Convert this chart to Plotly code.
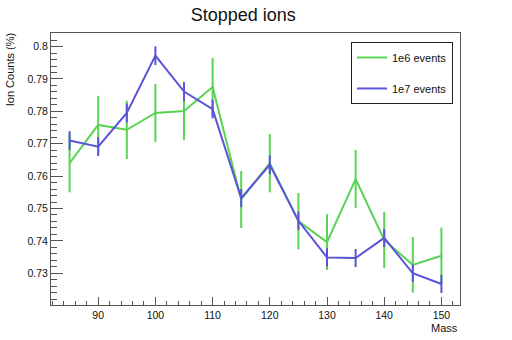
import plotly.graph_objects as go

FONT = "Liberation Sans, Arial, Helvetica, sans-serif"
GREEN = "#59D354"
BLUE = "#5954D8"
FRAME = "#555555"

mass = [85, 90, 95, 100, 105, 110, 115, 120, 125, 130, 135, 140, 145, 150]

counts_1e6 = [0.7640, 0.7758, 0.7743, 0.7795, 0.7801, 0.7875, 0.7528, 0.7640,
              0.7461, 0.7396, 0.7591, 0.7403, 0.7326, 0.7354]
err_1e6 = [0.0090, 0.0090, 0.0090, 0.0090, 0.0090, 0.0090, 0.0088, 0.0090,
           0.0087, 0.0086, 0.0090, 0.0087, 0.0086, 0.0087]

counts_1e7 = [0.7710, 0.7691, 0.7795, 0.7972, 0.7861, 0.7807, 0.7532, 0.7635,
              0.7462, 0.7349, 0.7347, 0.7409, 0.7300, 0.7267]
err_1e7 = [0.0029, 0.0029, 0.0029, 0.0029, 0.0029, 0.0029, 0.0028, 0.0029,
           0.0028, 0.0028, 0.0028, 0.0028, 0.0027, 0.0028]

x_tick_vals = [90, 100, 110, 120, 130, 140, 150]
x_tick_text = ["90", "100", "110", "120", "130", "140", "150"]
y_tick_vals = [0.73, 0.74, 0.75, 0.76, 0.77, 0.78, 0.79, 0.80]
y_tick_text = ["0.73", "0.74", "0.75", "0.76", "0.77", "0.78", "0.79", "0.8"]

fig = go.Figure()
fig.add_scatter(
    x=mass, y=counts_1e6, name="1e6 events", mode="lines",
    line=dict(color=GREEN, width=2),
    error_y=dict(type="data", array=err_1e6, color=GREEN, thickness=2, width=0),
    legendgroup="a",
)
fig.add_scatter(
    x=mass, y=counts_1e7, name="1e7 events", mode="lines",
    line=dict(color=BLUE, width=2),
    error_y=dict(type="data", array=err_1e7, color=BLUE, thickness=2, width=0),
    legendgroup="b",
)

axis_common = dict(
    showline=True, mirror=True, linecolor=FRAME, linewidth=1,
    showgrid=False, zeroline=False, ticks="inside", tickcolor=FRAME,
    tickmode="array", tickfont=dict(size=10.5, color="#111111", family=FONT),
)

fig.update_xaxes(
    **axis_common, range=[81.75, 153.25], tickvals=x_tick_vals, ticktext=x_tick_text,
    ticklen=8, tickwidth=1,
    minor=dict(ticks="inside", ticklen=4, tickcolor=FRAME, tickmode="linear", tick0=82, dtick=2),
)
fig.update_yaxes(
    **axis_common, range=[0.7202, 0.8042], tickvals=y_tick_vals, ticktext=y_tick_text,
    ticklen=12, tickwidth=1,
    minor=dict(ticks="inside", ticklen=6, tickcolor=FRAME, tickmode="linear", tick0=0.72, dtick=0.002),
)

fig.update_layout(
    width=512, height=340,
    margin=dict(l=51, r=52, t=33, b=35),
    paper_bgcolor="white", plot_bgcolor="white",
    font=dict(family=FONT, color="#111111", size=11),
    title=dict(text="Stopped ions", x=0.475, xanchor="center", y=0.975, yanchor="top",
               font=dict(size=18, family=FONT, color="#111111")),
    showlegend=True,
    legend=dict(
        x=0.7335, y=0.967, xanchor="left", yanchor="top",
        bordercolor="#222222", borderwidth=1, bgcolor="white",
        font=dict(size=11, family=FONT), tracegroupgap=12,
        traceorder="grouped", itemwidth=30,
    ),
    annotations=[
        dict(text="Mass", xref="paper", yref="paper", x=1, y=-0.055,
             xanchor="right", yanchor="top", showarrow=False, font=dict(size=11)),
        dict(text="Ion Counts (%)", xref="paper", yref="paper", x=-0.1, y=1.005,
             xanchor="center", yanchor="top", textangle=-90, showarrow=False,
             font=dict(size=11)),
    ],
)

# drop the browser's default body margin so the figure sits at the page corner
fig.write_html(
    "out.html",
    config={"displayModeBar": False},
    post_script="document.body.style.margin='0';",
)
